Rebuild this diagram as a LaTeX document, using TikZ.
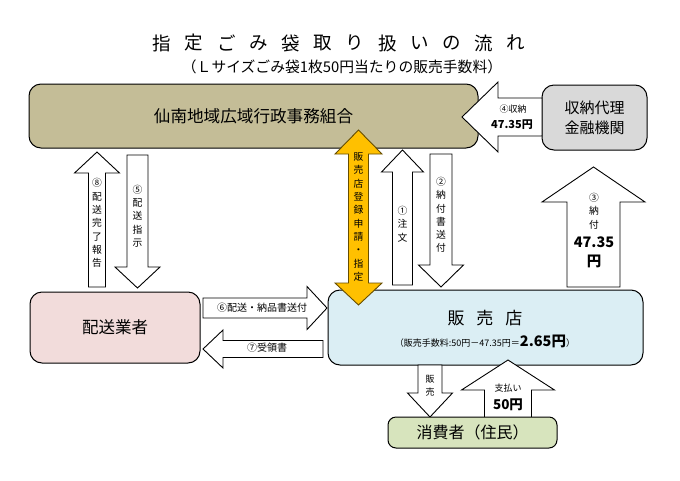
\documentclass[tikz,border=0pt]{standalone}
\usepackage{fontspec}
\setmainfont{Noto Sans CJK JP}
\usetikzlibrary{calc}

\definecolor{unionTan}{RGB}{196,189,151}
\definecolor{bankGrey}{RGB}{217,217,217}
\definecolor{carrierPink}{RGB}{242,220,219}
\definecolor{shopBlue}{RGB}{219,238,244}
\definecolor{residentGreen}{RGB}{215,228,189}
\definecolor{regOrange}{RGB}{255,192,0}

\tikzset{
  box/.style={draw=black, line width=1pt, rounded corners=12pt, inner sep=0pt},
  blockarrow/.style={draw=black, line width=0.9pt, fill=white, line join=miter},
  arrowtext/.style={font=\fontsize{9.8}{13.3}\selectfont, align=center, inner sep=0pt},
  sumtext/.style={font=\bfseries\fontsize{11}{13}\selectfont, inner sep=0pt},
}

% vertical block arrow: [opts]{cx}{y tail}{y tip}{y head base}{shaft half}{head half}
\newcommand{\vertarrow}[7][]{%
  \draw[blockarrow,#1] ({#2-#6},#3) -- ({#2-#6},#5) -- ({#2-#7},#5) -- (#2,#4)
    -- ({#2+#7},#5) -- ({#2+#6},#5) -- ({#2+#6},#3) -- cycle;}
% horizontal block arrow: [opts]{cy}{x tail}{x tip}{x head base}{shaft half}{head half}
\newcommand{\horzarrow}[7][]{%
  \draw[blockarrow,#1] (#3,{#2-#6}) -- (#5,{#2-#6}) -- (#5,{#2-#7}) -- (#4,#2)
    -- (#5,{#2+#7}) -- (#5,{#2+#6}) -- (#3,{#2+#6}) -- cycle;}

\begin{document}
\begin{tikzpicture}[x=1pt, y=-1pt]
        \useasboundingbox (0,0) rectangle (680,480);
        % Title
        \foreach \c [count=\i from 0] in {指,定,ご,み,袋,取,り,扱,い,の,流,れ}
          \node[font=\fontsize{18.5}{18}\selectfont, inner sep=0pt] (t\i) at ({162+32.2*\i},43) {\c};
        \node[font=\fontsize{14.8}{14}\selectfont, inner sep=0pt] (subtitle) at (342,67)
          {（Ｌサイズごみ袋1枚50円当たりの販売手数料）};
        % Boxes
        \node[box, fill=unionTan, minimum width=449, minimum height=64,
              font=\fontsize{16.6}{16}\selectfont] (union) at (253.5,116) {仙南地域広域行政事務組合};
        \node[box, fill=bankGrey, minimum width=105, minimum height=65, align=center,
              font=\fontsize{15}{20}\selectfont] (bank) at (594.5,117.5) {収納代理\\金融機関};
        \node[box, fill=carrierPink, minimum width=170, minimum height=71,
              font=\fontsize{16.5}{16}\selectfont] (carrier) at (115,327.5) {配送業者};
        \node[box, fill=shopBlue, minimum width=315, minimum height=75] (shop) at (485.5,327.5) {};
        \node[font=\fontsize{17}{17}\selectfont, inner sep=0pt] (shopname) at (485,318)
          {販\hspace{12pt}売\hspace{12pt}店};
        \node[font=\fontsize{9}{10}\selectfont, inner sep=0pt, anchor=base] (fee) at (485,346)
          {（販売手数料:50円－47.35円＝{\bfseries\fontsize{14.5}{14}\selectfont 2.65円}）};
        % Arrows between the union, carrier and shop
        \vertarrow{97}{287}{152}{173}{8.5}{22.5}
        \node[arrowtext] (done) at (97,223) {⑧\\配\\送\\完\\了\\報\\告};
        \vertarrow{137.5}{155}{288}{267}{10.5}{22.5}
        \node[arrowtext] (order) at (137.5,216) {⑤\\配\\送\\指\\示};
        \vertarrow{402.5}{285}{150}{172}{10}{21}
        \node[arrowtext] (buy) at (402.5,224) {①\\注\\文};
        \vertarrow{441}{154}{287}{265}{11}{22.5}
        \node[arrowtext] (slip) at (441,215) {②\\納\\付\\書\\送\\付};
        \horzarrow{308}{203}{327}{307}{10}{21.5}
        \node[arrowtext, font=\fontsize{10}{12}\selectfont] (deliver) at (262,308) {⑥配送・納品書送付};
        \horzarrow{349}{323}{203}{223}{8.5}{19}
        \node[arrowtext, font=\fontsize{10}{12}\selectfont] (receipt) at (267,348) {⑦受領書};
        % Payment to the union
        \vertarrow{593.5}{287}{167}{202}{26.5}{51.5}
        \node[arrowtext] (pay) at (594,211) {③\\納\\付};
        \node[sumtext, font=\bfseries\fontsize{14.5}{14}\selectfont] (paysum) at (594,242) {47.35};
        \node[sumtext, font=\bfseries\fontsize{14.5}{14}\selectfont] (payyen) at (594,261) {円};
        \horzarrow{117}{542}{462}{498}{19}{35}
        \node[arrowtext, font=\fontsize{9}{10}\selectfont] (collect) at (513,109) {④収納};
        \node[sumtext] (collectsum) at (512,125) {47.35円};
        % Registration
        \draw[line width=0.9pt, draw=black!60!regOrange, fill=regOrange]
          (348.5,154) -- (335,154) -- (358.5,130) -- (382,154) -- (368.5,154)
          -- (368.5,283) -- (382,283) -- (358.5,305) -- (335,283) -- (348.5,283) -- cycle;
        \node[arrowtext] (register) at (358.5,217) {販\\売\\店\\登\\録\\申\\請\\・\\指\\定};
        % Shop and residents
        \vertarrow{430}{365}{417}{393}{12}{22.5}
        \node[arrowtext, font=\fontsize{9}{13}\selectfont] (sell) at (430,386) {販\\売};
        \vertarrow{508}{420}{360}{390}{23.5}{46.5}
        \node[arrowtext, font=\fontsize{9}{10}\selectfont] (paid) at (508,388) {支払い};
        \node[sumtext, font=\bfseries\fontsize{13.5}{13}\selectfont] (paidsum) at (508,405) {50円};
        \node[box, fill=residentGreen, rounded corners=8pt, minimum width=169, minimum height=31,
              font=\fontsize{16}{15}\selectfont] (resident) at (472.5,432.5) {消費者（住民）};
      \end{tikzpicture}
\end{document}
